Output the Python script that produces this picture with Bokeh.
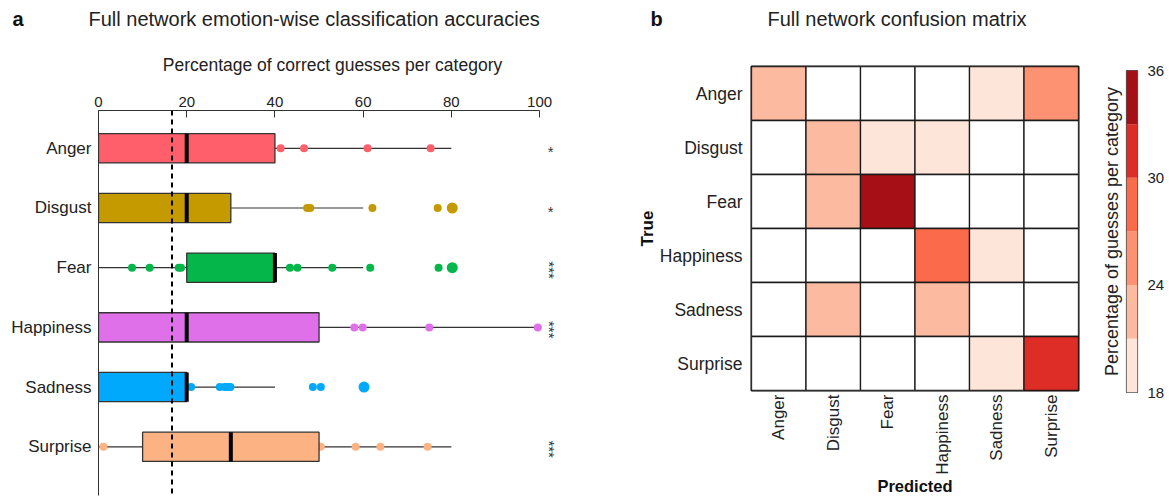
from math import pi
from bokeh.plotting import figure
from bokeh.layouts import row, column
from bokeh.models import (ColumnDataSource, FixedTicker, Range1d, Span, LinearAxis,
                          LinearColorMapper)
from bokeh.core.properties import value
from bokeh.palettes import Reds6
from bokeh.embed import file_html
from bokeh.resources import INLINE

FONT = "Liberation Sans"

# ---------------- data ----------------
emotions = ["Anger", "Disgust", "Fear", "Happiness", "Sadness", "Surprise"]
box_colors = ["#ff5f6b", "#c49a00", "#05b64a", "#e070e9", "#00a9fb", "#fdb283"]

q1 = [0, 0, 20, 0, 0, 10]
q3 = [40, 30, 40, 50, 20, 50]
medians = [20, 20, 40, 20, 20, 30]
whisker_low = [0, 0, 0, 0, 0, 0]
whisker_high = [80, 60, 60, 100, 40, 80]
significance = ["*", "*", "***", "***", "", "***"]
chance_level = 100 / 6

anger_points = [41.3, 46.6, 61.0, 75.3]
anger_counts = [1, 1, 1, 1]
disgust_points = [47.3, 48.0, 62.1, 76.9, 80.2]
disgust_counts = [1, 1, 1, 1, 2]
fear_points = [7.6, 11.6, 18.2, 18.7, 43.4, 45.1, 53.0, 61.6, 77.1, 80.2]
fear_counts = [1, 1, 1, 1, 1, 1, 1, 1, 1, 2]
happiness_points = [58.0, 59.9, 75.0, 99.6]
happiness_counts = [1, 1, 1, 1]
sadness_points = [21.0, 27.5, 28.6, 29.3, 29.9, 48.6, 50.4, 60.2]
sadness_counts = [1, 1, 1, 1, 1, 1, 1, 2]
surprise_points = [1.1, 50.4, 58.3, 63.9, 74.6]
surprise_counts = [1, 1, 1, 1, 1]

# confusion matrix (rows: true, columns: predicted), percentages
conf_anger = [22.5, 11.5, 10.0, 11.0, 19.5, 25.5]
conf_disgust = [13.0, 22.5, 19.5, 19.5, 12.0, 13.5]
conf_fear = [10.0, 22.5, 35.0, 11.0, 11.0, 10.5]
conf_happiness = [13.5, 12.0, 13.0, 28.5, 19.5, 13.5]
conf_sadness = [14.0, 22.5, 13.0, 22.5, 14.0, 14.0]
conf_surprise = [12.0, 13.0, 12.0, 11.0, 19.5, 32.5]
colorbar_ticks = [18, 24, 30, 36]
colorbar_edges = [18, 21, 24, 27, 30, 33, 36]

panel_letters = ["a", "b"]
panel_titles = ["Full network emotion-wise classification accuracies",
                "Full network confusion matrix"]

TOTAL_W = 1167
HEADER_H = 36
BODY_H = 461

# ---------------- header (panel letters + titles) ----------------
hdr = figure(width=TOTAL_W, height=HEADER_H, x_range=Range1d(0, TOTAL_W),
             y_range=Range1d(HEADER_H, 0), x_axis_location=None, y_axis_location=None,
             output_backend="svg", toolbar_location=None)
hdr.min_border = 0
hdr.outline_line_color = None
hdr.grid.visible = False
hdr.frame_align = False
hdr.text(x=[12, 650], y=[18, 18], text=panel_letters, text_font=value(FONT),
         text_font_size="20px", text_font_style="bold", text_baseline="middle",
         text_color="#111111")
hdr.text(x=[88, 767], y=[18, 18], text=panel_titles, text_font=value(FONT),
         text_font_size="20px", text_baseline="middle", text_color="#222222")

# ---------------- panel a ----------------
p1 = figure(width=633, height=BODY_H, x_range=Range1d(0, 106.1),
            y_range=Range1d(5.816, -0.633), x_axis_location="above",
            output_backend="svg", toolbar_location=None)
p1.frame_align = False
p1.min_border_left = 98
p1.min_border_right = 67
p1.min_border_top = 74
p1.min_border_bottom = 2
p1.outline_line_color = None
p1.grid.visible = False

xa = p1.xaxis[0]
xa.ticker = FixedTicker(ticks=[0, 20, 40, 60, 80, 100])
xa.bounds = (0, 100)
xa.major_tick_in = 7
xa.major_tick_out = 0
xa.minor_tick_line_color = None
xa.axis_line_color = "#333333"
xa.major_tick_line_color = "#333333"
xa.major_label_text_font = FONT
xa.major_label_text_font_size = "15px"
xa.major_label_text_color = "#222222"
xa.major_label_standoff = 4
xa.axis_label = "Percentage of correct guesses per category"
xa.axis_label_text_font = FONT
xa.axis_label_text_font_size = "17.5px"
xa.axis_label_text_font_style = "normal"
xa.axis_label_text_color = "#222222"
xa.axis_label_standoff = 19

ya = p1.yaxis[0]
ya.ticker = FixedTicker(ticks=list(range(len(emotions))))
ya.major_label_overrides = {i: e for i, e in enumerate(emotions)}
ya.major_tick_line_color = None
ya.minor_tick_line_color = None
ya.axis_line_color = "#333333"
ya.major_label_text_font = FONT
ya.major_label_text_font_size = "17px"
ya.major_label_text_color = "#222222"
ya.major_label_standoff = 1

idx = list(range(len(emotions)))
box_h = 0.49
wsrc = ColumnDataSource(dict(y=idx, lo=whisker_low, q1=q1, q3=q3, hi=whisker_high))
p1.segment(x0="lo", y0="y", x1="q1", y1="y", source=wsrc, line_color="#333333", line_width=1.2)
p1.segment(x0="q3", y0="y", x1="hi", y1="y", source=wsrc, line_color="#333333", line_width=1.2)

all_points = [anger_points, disgust_points, fear_points, happiness_points,
              sadness_points, surprise_points]
all_counts = [anger_counts, disgust_counts, fear_counts, happiness_counts,
              sadness_counts, surprise_counts]
px, py, ps, pc = [], [], [], []
for i, (pts, cnts) in enumerate(zip(all_points, all_counts)):
    for v, c in zip(pts, cnts):
        px.append(v)
        py.append(i)
        ps.append(8 if c == 1 else 11)
        pc.append(box_colors[i])
p1.scatter(x=px, y=py, size=ps, fill_color=pc, line_color=None)

bsrc = ColumnDataSource(dict(y=idx, left=q1, right=q3, color=box_colors, med=medians,
                             top=[i - box_h / 2 for i in idx],
                             bot=[i + box_h / 2 for i in idx]))
p1.hbar(y="y", left="left", right="right", height=box_h, fill_color="color",
        line_color="#333333", line_width=1.3, source=bsrc)
p1.segment(x0="med", y0="top", x1="med", y1="bot", source=bsrc,
           line_color="black", line_width=4)

p1.add_layout(Span(location=chance_level, dimension="height", line_color="black",
                   line_width=2, line_dash="5 4"))

single = [i for i, s in enumerate(significance) if s == "*"]
triple = [i for i, s in enumerate(significance) if s == "***"]
p1.text(x=[102.5] * len(single), y=[i + 0.06 for i in single],
        text=[significance[i] for i in single], text_align="center",
        text_baseline="middle", text_font=value(FONT), text_font_size="15px",
        text_color="#333333")
p1.text(x=[102.2] * len(triple), y=[i + 0.04 for i in triple],
        text=[significance[i] for i in triple], angle=-pi / 2, text_align="center",
        text_baseline="middle", text_font=value(FONT), text_font_size="15px",
        text_color="#333333")

# ---------------- panel b ----------------
p2 = figure(width=453, height=BODY_H, x_range=Range1d(-0.5, 5.5), y_range=Range1d(5.5, -0.5),
            output_backend="svg", toolbar_location=None)
p2.frame_align = False
p2.min_border_left = 118
p2.min_border_right = 8
p2.min_border_top = 30
p2.min_border_bottom = 104
p2.grid.visible = False
p2.outline_line_color = "black"
p2.outline_line_width = 2

conf_rows = [conf_anger, conf_disgust, conf_fear, conf_happiness, conf_sadness, conf_surprise]
cx, cy, cv = [], [], []
for r, rowvals in enumerate(conf_rows):
    for c, v in enumerate(rowvals):
        cx.append(c)
        cy.append(r)
        cv.append(v)
mapper = LinearColorMapper(palette=list(reversed(Reds6)), low=colorbar_edges[0],
                           high=colorbar_edges[-1], low_color="white")
p2.rect(x="x", y="y", width=1, height=1, source=ColumnDataSource(dict(x=cx, y=cy, v=cv)),
        fill_color={"field": "v", "transform": mapper}, line_color="#1a1a1a", line_width=1.3)

for ax in (p2.xaxis[0], p2.yaxis[0]):
    ax.ticker = FixedTicker(ticks=list(range(len(emotions))))
    ax.major_label_overrides = {i: e for i, e in enumerate(emotions)}
    ax.major_tick_line_color = None
    ax.minor_tick_line_color = None
    ax.axis_line_color = None
    ax.major_label_text_font = FONT
    ax.major_label_text_color = "#222222"
    ax.axis_label_text_font = FONT
    ax.axis_label_text_font_style = "bold"
    ax.axis_label_text_color = "#111111"
p2.xaxis[0].major_label_text_font_size = "17px"
p2.yaxis[0].major_label_text_font_size = "17.5px"
p2.xaxis[0].major_label_orientation = pi / 2
p2.xaxis[0].major_label_standoff = -2
p2.xaxis[0].axis_label = "Predicted"
p2.xaxis[0].axis_label_text_font_size = "16.5px"
p2.xaxis[0].axis_label_standoff = -1
p2.yaxis[0].major_label_standoff = 3
p2.yaxis[0].axis_label = "True"
p2.yaxis[0].axis_label_text_font_size = "17px"
p2.yaxis[0].axis_label_standoff = 0

# ---------------- colour bar ----------------
p3 = figure(width=81, height=BODY_H, x_range=Range1d(0, 1),
            y_range=Range1d(colorbar_edges[0], colorbar_edges[-1]),
            x_axis_location=None, y_axis_location="right",
            output_backend="svg", toolbar_location=None)
p3.frame_align = False
p3.min_border_left = 40
p3.min_border_right = 24
p3.min_border_top = 34
p3.min_border_bottom = 105
p3.grid.visible = False
p3.outline_line_color = "#555555"
p3.outline_line_width = 1.2
p3.quad(left=0, right=1, bottom=colorbar_edges[:-1], top=colorbar_edges[1:],
        fill_color=list(reversed(Reds6)), line_color=None)
ca = p3.yaxis[0]
ca.ticker = FixedTicker(ticks=colorbar_ticks)
ca.major_tick_line_color = None
ca.minor_tick_line_color = None
ca.axis_line_color = None
ca.major_label_text_font = FONT
ca.major_label_text_font_size = "15px"
ca.major_label_text_color = "#222222"
ca.major_label_standoff = 4
ta = LinearAxis(ticker=FixedTicker(ticks=[]), axis_label="Percentage of guesses per category")
ta.axis_line_color = None
ta.major_tick_line_color = None
ta.minor_tick_line_color = None
ta.axis_label_text_font = FONT
ta.axis_label_text_font_size = "18px"
ta.axis_label_text_font_style = "normal"
ta.axis_label_text_color = "#222222"
ta.axis_label_standoff = 5
p3.add_layout(ta, "left")

layout = column(hdr, row(p1, p2, p3))
open("out.html", "w").write(file_html(layout, INLINE))
